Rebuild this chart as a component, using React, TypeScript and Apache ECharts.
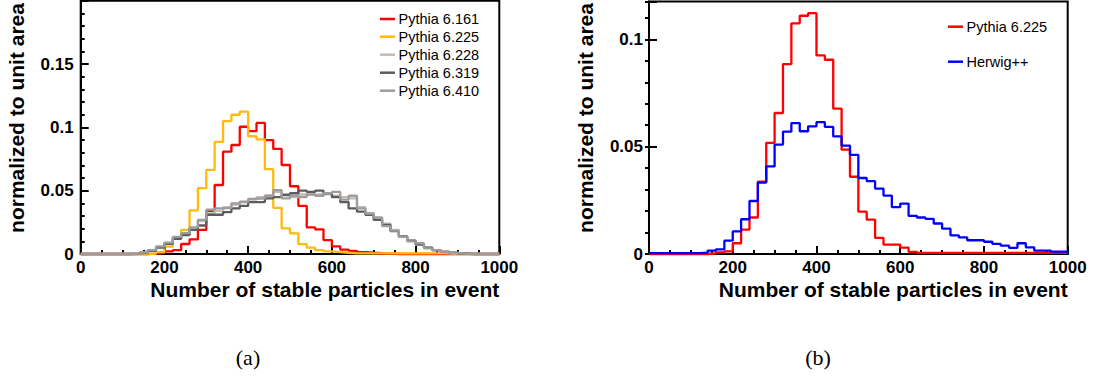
import React, { useEffect, useRef } from "react";
import * as echarts from "echarts";

// Histogram binning: 50 bins of width 20 over [0, 1000]
const BIN_WIDTH = 20;
const X_TICKS = { min: 0, max: 1000, major: 200 };

// Panel (a): stable-particle multiplicity, normalised to unit area
const pythia6161 = [
  0, 0, 0, 0, 0, 0, 0, 0, 0.0003, 0.0008,
  0.002, 0.003, 0.0079, 0.0115, 0.019, 0.034, 0.0545, 0.0808, 0.0861, 0.1005,
  0.097, 0.1035, 0.09, 0.083, 0.0703, 0.0535, 0.038, 0.021, 0.0195, 0.011,
  0.006, 0.0035, 0.0025, 0.0015, 0.001, 0.0006, 0.0003, 0, 0, 0,
  0, 0, 0, 0, 0, 0, 0, 0, 0, 0,
];
const pythia6225a = [
  0, 0, 0, 0, 0, 0, 0, 0, 0.0003, 0.0015,
  0.0058, 0.0124, 0.019, 0.0345, 0.052, 0.0664, 0.0885, 0.105, 0.11, 0.1124,
  0.093, 0.0905, 0.067, 0.0365, 0.0203, 0.0163, 0.0078, 0.005, 0.003, 0.002,
  0.0015, 0.001, 0.0005, 0.0005, 0.0005, 0.0005, 0.0005, 0.0005, 0.0005, 0.0005,
  0.0005, 0.0005, 0.0005, 0.0005, 0, 0, 0, 0, 0, 0,
];
const pythia6228 = [
  0, 0, 0, 0, 0, 0, 0.0003, 0.001, 0.003, 0.0055,
  0.0085, 0.013, 0.016, 0.02, 0.026, 0.032, 0.034, 0.037, 0.039, 0.0415,
  0.043, 0.045, 0.046, 0.049, 0.047, 0.045, 0.047, 0.047, 0.047, 0.0475,
  0.046, 0.045, 0.044, 0.037, 0.032, 0.028, 0.024, 0.019, 0.014, 0.0105,
  0.008, 0.005, 0.003, 0.0015, 0.0008, 0.0003, 0, 0, 0, 0,
];
const pythia6319 = [
  0, 0, 0, 0, 0, 0, 0.0002, 0.0008, 0.0025, 0.005,
  0.008, 0.012, 0.015, 0.019, 0.0225, 0.031, 0.031, 0.033, 0.036, 0.038,
  0.041, 0.041, 0.044, 0.045, 0.0466, 0.048, 0.05, 0.049, 0.05, 0.048,
  0.045, 0.041, 0.036, 0.0335, 0.031, 0.027, 0.023, 0.018, 0.014, 0.0105,
  0.0075, 0.005, 0.003, 0.0018, 0.001, 0.0004, 0, 0, 0, 0,
];
const pythia6410 = [
  0, 0, 0, 0, 0, 0, 0.0004, 0.0012, 0.003, 0.006,
  0.009, 0.0135, 0.0165, 0.021, 0.027, 0.035, 0.036, 0.0365, 0.04, 0.041,
  0.0435, 0.044, 0.046, 0.0505, 0.044, 0.046, 0.045, 0.047, 0.046, 0.048,
  0.049, 0.043, 0.046, 0.036, 0.032, 0.029, 0.022, 0.0185, 0.0135, 0.01,
  0.0085, 0.0045, 0.003, 0.0015, 0.0008, 0.0003, 0, 0, 0, 0,
];

// Panel (b): Pythia 6.225 against Herwig++
const pythia6225b = [
  0, 0, 0, 0, 0, 0, 0, 0.0003, 0.0008, 0.0012,
  0.005, 0.0114, 0.017, 0.0337, 0.0518, 0.0657, 0.0885, 0.1075, 0.111, 0.1122,
  0.0925, 0.0905, 0.0677, 0.0486, 0.036, 0.0197, 0.016, 0.0075, 0.0044, 0.0044,
  0.003, 0.001, 0.0005, 0.0005, 0.0005, 0.0005, 0.0005, 0.0005, 0.0005, 0.0005,
  0.0005, 0.0005, 0.0005, 0.0005, 0.0005, 0.0005, 0.0005, 0.0005, 0.0005, 0.0005,
];
const herwigpp = [
  0.0004, 0.0004, 0.0004, 0.0004, 0.0004, 0.0004, 0.0006, 0.0016, 0.0022, 0.0062,
  0.0105, 0.0162, 0.0247, 0.0333, 0.0408, 0.051, 0.057, 0.061, 0.0572, 0.0595,
  0.0614, 0.0592, 0.0548, 0.0505, 0.0462, 0.0354, 0.034, 0.0305, 0.0272, 0.0218,
  0.0235, 0.0178, 0.017, 0.0164, 0.0142, 0.0118, 0.0087, 0.0077, 0.0064, 0.0064,
  0.0057, 0.0047, 0.0039, 0.0029, 0.005, 0.0031, 0.0016, 0.0016, 0.0011, 0.0011,
];

const seriesA = [
  { name: "Pythia 6.161", values: pythia6161, color: "#ff0000" },
  { name: "Pythia 6.225", values: pythia6225a, color: "#ffb90f" },
  { name: "Pythia 6.228", values: pythia6228, color: "#c8b9b4" },
  { name: "Pythia 6.319", values: pythia6319, color: "#5c5c5c" },
  { name: "Pythia 6.410", values: pythia6410, color: "#9d9d9d" },
];
const seriesB = [
  { name: "Pythia 6.225", values: pythia6225b, color: "#ff0000" },
  { name: "Herwig++", values: herwigpp, color: "#0000ff" },
];

const X_TITLE = "Number of stable particles in event";
const Y_TITLE = "normalized to unit area";

const SANS = "'Liberation Sans', Arial, Helvetica, sans-serif";
const SERIF = "'Liberation Serif', 'DejaVu Serif', serif";

// Turn bin contents into step-line points along the bin edges
function stepPoints(values: number[]): number[][] {
  const pts = values.map((v, i) => [i * BIN_WIDTH, v]);
  pts.push([values.length * BIN_WIDTH, values[values.length - 1]]);
  return pts;
}

function fmt(v: number): string {
  return String(+v.toFixed(4));
}

const tickLabel = {
  fontFamily: SANS,
  fontWeight: "bold" as const,
  fontSize: 17,
  color: "#000",
};

function xAxis(gridIndex: number) {
  return {
    type: "value",
    gridIndex,
    min: X_TICKS.min,
    max: X_TICKS.max,
    interval: X_TICKS.major,
    axisLine: { show: true, onZero: false, lineStyle: { color: "#000", width: 2 } },
    axisTick: { show: true, inside: true, length: 8, lineStyle: { color: "#000", width: 2 } },
    minorTick: { show: true, splitNumber: 4, length: 4, lineStyle: { color: "#000", width: 2 } },
    splitLine: { show: false },
    axisLabel: { ...tickLabel, margin: 5, formatter: (v: number) => fmt(v) },
  };
}

function isMultiple(v: number, step: number) {
  const r = v / step;
  return Math.abs(r - Math.round(r)) < 1e-6;
}

export default function App() {
  const ref = useRef<HTMLDivElement>(null);

  useEffect(() => {
    if (!ref.current) return;
    const chart = echarts.init(ref.current, undefined, { renderer: "svg" });

    const lineSeries = (
      s: { name: string; values: number[]; color: string },
      xi: number,
      yi: number
    ) => ({
      type: "line",
      name: s.name,
      xAxisIndex: xi,
      yAxisIndex: yi,
      data: stepPoints(s.values),
      step: "end",
      symbol: "none",
      clip: false,
      silent: true,
      lineStyle: { color: s.color, width: 2.3 },
      itemStyle: { color: s.color },
    });

    const legendItems = (
      list: { name: string; color: string }[],
      x: number,
      ys: number[]
    ) =>
      list.flatMap((s, i) => [
        {
          type: "line",
          shape: { x1: x, y1: ys[i], x2: x + 15, y2: ys[i] },
          style: { stroke: s.color, lineWidth: 2.5 },
        },
        {
          type: "text",
          x: x + 18.5,
          y: ys[i],
          style: {
            text: s.name,
            fill: "#000",
            font: `14.5px ${SANS}`,
            align: "left",
            verticalAlign: "middle",
          },
        },
      ]);

    const titleFont = `bold 21px ${SANS}`;

    chart.setOption({
      animation: false,
      backgroundColor: "#fff",
      grid: [
        {
          left: 80.7, top: 0.8, width: 418.6, height: 253.2,
          show: true, borderColor: "#000", borderWidth: 2,
          outerBoundsMode: "none", containLabel: false,
        },
        {
          left: 649, top: 1.6, width: 418.7, height: 252.4,
          show: true, borderColor: "#000", borderWidth: 2,
          outerBoundsMode: "none", containLabel: false,
        },
      ],
      xAxis: [xAxis(0), xAxis(1)],
      yAxis: [
        {
          type: "value",
          gridIndex: 0,
          min: 0,
          max: 0.2,
          interval: 0.05,
          axisLine: { show: true, onZero: false, lineStyle: { color: "#000", width: 2 } },
          axisTick: { show: true, inside: true, length: 8, lineStyle: { color: "#000", width: 2 } },
          minorTick: { show: true, splitNumber: 5, length: 4, lineStyle: { color: "#000", width: 2 } },
          splitLine: { show: false },
          axisLabel: {
            ...tickLabel,
            margin: 7,
            formatter: (v: number) => (v > 0.19 ? "" : fmt(v)),
          },
        },
        {
          type: "value",
          gridIndex: 1,
          min: 0,
          max: 0.1176,
          interval: 0.05,
          axisLine: { show: true, onZero: false, lineStyle: { color: "#000", width: 2 } },
          axisTick: { show: true, inside: true, length: 8, lineStyle: { color: "#000", width: 2 } },
          splitLine: { show: false },
          axisLabel: {
            ...tickLabel,
            margin: 6,
            formatter: (v: number) => (isMultiple(v, 0.05) ? fmt(v) : ""),
          },
        },
        {
          type: "value",
          gridIndex: 1,
          min: 0,
          max: 0.1176,
          interval: 0.01,
          axisLine: { show: false },
          axisTick: { show: true, inside: true, length: 4, lineStyle: { color: "#000", width: 2 } },
          splitLine: { show: false },
          axisLabel: { show: false },
        },
      ],
      series: [
        ...seriesA.map((s) => lineSeries(s, 0, 0)),
        ...seriesB.map((s) => lineSeries(s, 1, 1)),
      ],
      graphic: [
        ...legendItems(seriesA, 380, [19, 36.7, 54.7, 72.7, 90.7]),
        ...legendItems(seriesB, 948, [26.7, 61.7]),
        {
          type: "text",
          x: 499.3,
          y: 289.4,
          style: { text: X_TITLE, font: titleFont, fill: "#000", align: "right", verticalAlign: "middle" },
        },
        {
          type: "text",
          x: 1067.7,
          y: 289.4,
          style: { text: X_TITLE, font: titleFont, fill: "#000", align: "right", verticalAlign: "middle" },
        },
        {
          type: "text",
          x: 16.3,
          y: 118,
          rotation: Math.PI / 2,
          style: { text: Y_TITLE, font: titleFont, fill: "#000", align: "center", verticalAlign: "middle" },
        },
        {
          type: "text",
          x: 585.2,
          y: 118,
          rotation: Math.PI / 2,
          style: { text: Y_TITLE, font: titleFont, fill: "#000", align: "center", verticalAlign: "middle" },
        },
        {
          type: "text",
          x: 248,
          y: 357,
          style: { text: "(a)", font: `22px ${SERIF}`, fill: "#000", align: "center", verticalAlign: "middle" },
        },
        {
          type: "text",
          x: 818,
          y: 357,
          style: { text: "(b)", font: `22px ${SERIF}`, fill: "#000", align: "center", verticalAlign: "middle" },
        },
      ],
    });

    return () => chart.dispose();
  }, []);

  return (
    <div
      ref={ref}
      style={{ position: "fixed", left: 0, top: 0, width: 1096, height: 382, background: "#fff" }}
    />
  );
}
